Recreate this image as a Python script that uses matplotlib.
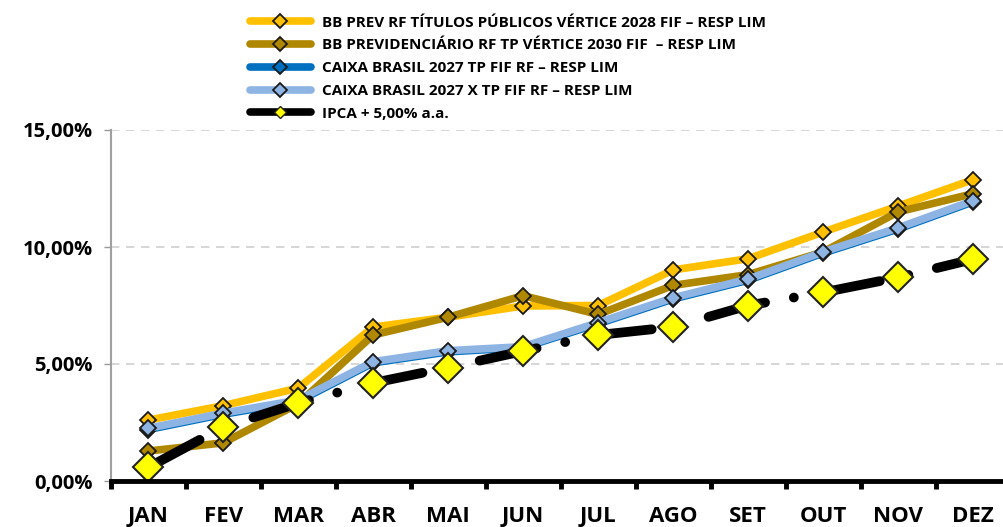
import numpy as np
import matplotlib.pyplot as plt
from matplotlib.lines import Line2D

meses = ["JAN", "FEV", "MAR", "ABR", "MAI", "JUN", "JUL", "AGO", "SET", "OUT", "NOV", "DEZ"]

bb_2028 = [2.60, 3.22, 3.97, 6.58, 7.00, 7.48, 7.50, 9.02, 9.50, 10.64, 11.75, 12.88]
bb_2030 = [1.28, 1.63, 3.30, 6.24, 7.00, 7.92, 7.12, 8.36, 8.82, 9.79, 11.50, 12.28]
caixa_2027 = [2.20, 2.85, 3.40, 5.05, 5.52, 5.70, 6.72, 7.78, 8.58, 9.74, 10.77, 11.93]
caixa_2027x = [2.25, 2.90, 3.46, 5.10, 5.57, 5.74, 6.77, 7.83, 8.63, 9.79, 10.82, 11.98]
ipca = [0.58, 2.30, 3.33, 4.19, 4.85, 5.55, 6.24, 6.58, 7.50, 8.06, 8.70, 9.48]

nomes = [
    "BB PREV RF TÍTULOS PÚBLICOS VÉRTICE 2028 FIF – RESP LIM",
    "BB PREVIDENCIÁRIO RF TP VÉRTICE 2030 FIF  – RESP LIM",
    "CAIXA BRASIL 2027 TP FIF RF – RESP LIM",
    "CAIXA BRASIL 2027 X TP FIF RF – RESP LIM",
    "IPCA + 5,00% a.a.",
]

plt.rcParams['font.family'] = ['Open Sans', 'DejaVu Sans']
plt.rcParams['font.weight'] = 'bold'

fig = plt.figure(figsize=(10.04, 5.27), dpi=100)
W, H = 1004, 527
ax = fig.add_axes([110.7 / W, 1 - 481 / H, 900 / W, (481 - 130) / H])

x = np.arange(len(meses))

series = [
    (bb_2028, "#FFC000", "#FFC000"),
    (bb_2030, "#B08800", "#B08800"),
    (caixa_2027, "#0070C0", "#0070C0"),
    (caixa_2027x, "#8EB4E3", "#8EB4E3"),
]
for vals, cor, mk in series:
    ax.plot(x, vals, color=cor, lw=5.5, marker="D", ms=8, mfc=mk, mec="#1a1a1a",
            mew=1.3, solid_joinstyle="round", zorder=3)

# IPCA: linha tracejada longa-ponto
ax.plot(x, ipca, color="black", lw=7, dashes=(6, 3, 0.01, 3), dash_capstyle="round",
        marker="D", ms=15, mfc="#FFFF00", mec="#222222", mew=1.5, zorder=4)

ax.set_xlim(-0.5, 11.5)
ax.set_ylim(0, 15)
ax.set_yticks([0, 5, 10, 15])
ax.set_yticklabels(["0,00%", "5,00%", "10,00%", "15,00%"], fontsize=14.5, fontweight="bold")
ax.set_xticks(x)
ax.set_xticklabels(meses, fontsize=16, fontweight="bold")
ax.set_xticks(np.arange(-0.5, 12, 1), minor=True)
ax.tick_params(axis="x", which="major", length=0, pad=18)
ax.tick_params(axis="x", which="minor", length=6, width=3.5, color="black", direction="out")
ax.tick_params(axis="y", length=5, width=1, color="#999999", pad=8)

for y in [5, 10, 15]:
    ax.axhline(y, color="#D0D0D0", lw=1.2, ls=(0, (5, 4)), zorder=0)

for s in ["top", "right"]:
    ax.spines[s].set_visible(False)
ax.spines["left"].set_color("#A0A0A0")
ax.spines["left"].set_linewidth(1.5)
ax.spines["bottom"].set_color("black")
ax.spines["bottom"].set_linewidth(3.5)
ax.spines["bottom"].set_zorder(5)

handles = []
for vals, cor, mk in series:
    handles.append(Line2D([], [], color=cor, lw=5.5, marker="D", ms=7, mfc=mk,
                          mec="#1a1a1a", mew=1.3, solid_capstyle="round"))
handles.append(Line2D([], [], color="black", lw=5.5, marker="D", ms=6, mfc="#FFFF00",
                      mec="#222222", mew=1, solid_capstyle="round"))

leg = fig.legend(handles, nomes, loc="upper left", bbox_to_anchor=(236 / W, 1 - 2 / H),
                 frameon=False, handlelength=4.0, handletextpad=0.7, labelspacing=0.57,
                 prop={"size": 11, "weight": "bold"})

fig.savefig("out.png", dpi=100)
